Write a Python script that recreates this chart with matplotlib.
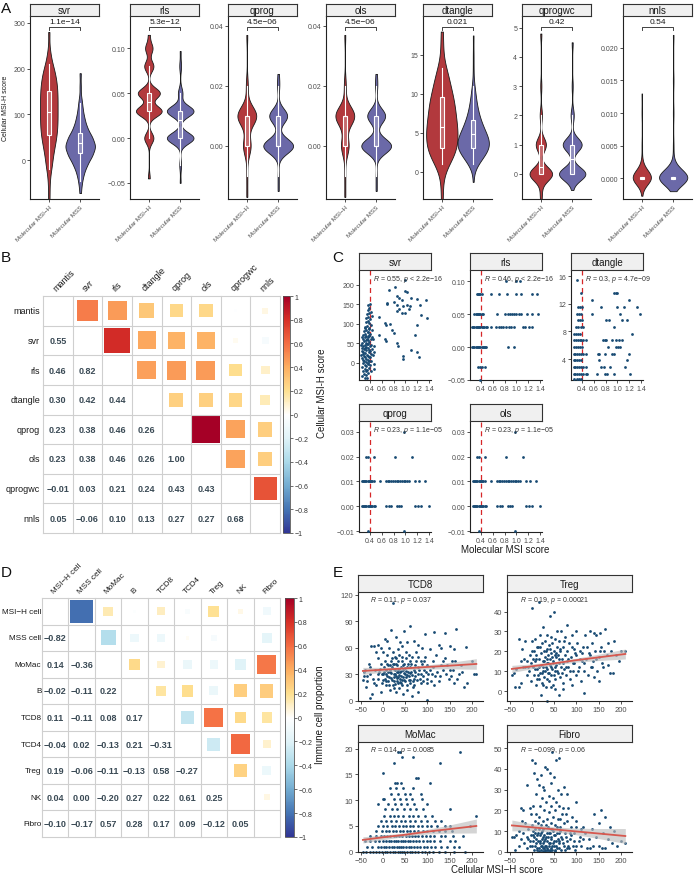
import numpy as np
import matplotlib
matplotlib.use("Agg")
import matplotlib.pyplot as plt
import matplotlib.transforms as mtransforms
from matplotlib.colors import LinearSegmentedColormap, Normalize
from matplotlib.cm import ScalarMappable
from matplotlib.patches import Rectangle

plt.rcParams['font.family'] = ['Liberation Sans', 'DejaVu Sans']
plt.rcParams['mathtext.fontset'] = 'custom'
plt.rcParams['mathtext.it'] = 'Liberation Sans:italic'
plt.rcParams['mathtext.rm'] = 'Liberation Sans'

# ================= A: violin data (levels, counts) =================
a_names = ['svr', 'rls', 'qprog', 'ols', 'dtangle', 'qprogwc', 'nnls']
a_pvals = ['1.1e−14', '5.3e−12', '4.5e−06', '4.5e−06', '0.021', '0.42', '0.54']
a_groups = ['Molecular MSI−H', 'Molecular MSS']

svr_h_lv = [-85, -50, -20, 0, 25, 50, 75, 100, 125, 150, 175, 200, 230, 280]
svr_h_ct = [1, 1, 2, 3, 5, 7, 8, 8, 8, 8, 7, 5, 2, 1]
svr_s_lv = [-72, -50, -30, -10, 10, 30, 50, 70, 90, 110, 130, 160, 190]
svr_s_ct = [1, 2, 4, 8, 14, 18, 14, 8, 5, 3, 2, 1, 1]
rls_h_lv = [-0.045, 0.0, 0.03, 0.05, 0.08, 0.10, 0.115]
rls_h_ct = [1, 5, 14, 12, 5, 4, 1]
rls_s_lv = [-0.05, -0.03, 0.0, 0.03, 0.05, 0.08, 0.097]
rls_s_ct = [1, 2, 30, 30, 5, 2, 1]
qprog_h_lv = [-0.017, -0.01, 0.0, 0.01, 0.02, 0.037]
qprog_h_ct = [1, 1, 8, 20, 2, 1]
qprog_s_lv = [-0.015, -0.01, 0.0, 0.01, 0.02, 0.024]
qprog_s_ct = [1, 1, 30, 18, 2, 1]
dtangle_h_lv = [-3.5, -1, 1, 2, 3, 4, 5, 6, 7, 8, 9, 10, 11, 12, 13, 14, 16, 18]
dtangle_h_ct = [1, 1, 3, 5, 6, 6, 6, 6, 5, 5, 5, 4, 3, 3, 2, 1, 1, 1]
dtangle_s_lv = [-1.3, 1, 2, 3, 4, 5, 6, 7, 8, 9, 10, 11, 13, 15, 17.5]
dtangle_s_ct = [1, 6, 14, 22, 22, 16, 12, 8, 6, 4, 3, 2, 1, 1, 1]
qprogwc_h_lv = [-0.86, -0.6, 0, 1, 2, 3, 4.8]
qprogwc_h_ct = [1, 1, 20, 9, 2, 1, 1]
qprogwc_s_lv = [-0.55, 0, 1, 2, 3, 4.5]
qprogwc_s_ct = [1, 25, 18, 3, 1, 1]
nnls_h_lv = [-0.0027, 0, 0.001, 0.002, 0.005, 0.010, 0.013]
nnls_h_ct = [1, 30, 5, 2, 1, 1, 1]
nnls_s_lv = [-0.002, 0, 0.001, 0.002, 0.005, 0.010, 0.015, 0.022]
nnls_s_ct = [1, 40, 6, 2, 1, 1, 1, 1]

# box stats: whislo, q1, med, q3, whishi
svr_box = [(-20, 55, 105, 152, 210), (-45, 15, 37, 60, 125)]
rls_box = [(0.0, 0.03, 0.04, 0.05, 0.08), (-0.03, 0.0, 0.02, 0.03, 0.05)]
qprog_box = [(-0.01, 0.0, 0.01, 0.01, 0.02), (-0.01, 0.0, 0.0, 0.01, 0.02)]
dtangle_box = [(1, 3, 5.7, 9.6, 13.3), (1, 3, 4.8, 6.7, 11)]
qprogwc_box = [(0, 0, 0.25, 1, 2), (0, 0, 0.5, 1, 2)]
nnls_box = [(0, -0.0002, 0, 0.0002, 0), (0, -0.0002, 0, 0.0002, 0)]

a_data = {
    'svr': (svr_h_lv, svr_h_ct, svr_s_lv, svr_s_ct, svr_box),
    'rls': (rls_h_lv, rls_h_ct, rls_s_lv, rls_s_ct, rls_box),
    'qprog': (qprog_h_lv, qprog_h_ct, qprog_s_lv, qprog_s_ct, qprog_box),
    'ols': (qprog_h_lv, qprog_h_ct, qprog_s_lv, qprog_s_ct, qprog_box),
    'dtangle': (dtangle_h_lv, dtangle_h_ct, dtangle_s_lv, dtangle_s_ct, dtangle_box),
    'qprogwc': (qprogwc_h_lv, qprogwc_h_ct, qprogwc_s_lv, qprogwc_s_ct, qprogwc_box),
    'nnls': (nnls_h_lv, nnls_h_ct, nnls_s_lv, nnls_s_ct, nnls_box),
}
a_ylim = {'svr': (-85, 315), 'rls': (-0.068, 0.136), 'qprog': (-0.0177, 0.0433),
          'ols': (-0.0177, 0.0433), 'dtangle': (-3.5, 20), 'qprogwc': (-0.86, 5.4),
          'nnls': (-0.0032, 0.0249)}
a_yticks = {'svr': [0, 100, 200, 300], 'rls': [-0.05, 0.0, 0.05, 0.10],
            'qprog': [0.0, 0.02, 0.04], 'ols': [0.0, 0.02, 0.04], 'dtangle': [0, 5, 10, 15],
            'qprogwc': [0, 1, 2, 3, 4, 5], 'nnls': [0.0, 0.005, 0.010, 0.015, 0.020]}
a_yfmt = {'svr': '{:.0f}', 'rls': '{:.2f}', 'qprog': '{:.2f}', 'ols': '{:.2f}',
          'dtangle': '{:.0f}', 'qprogwc': '{:.0f}', 'nnls': '{:.3f}'}
a_widths = {'svr': (0.56, 0.94), 'rls': (0.82, 0.85), 'qprog': (0.6, 0.95), 'ols': (0.6, 0.95),
            'dtangle': (1.0, 1.0), 'qprogwc': (0.72, 0.84), 'nnls': (0.58, 0.9)}
a_bw = {'svr': (0.25, 0.25), 'rls': (0.18, 0.25), 'qprog': (0.35, 0.35), 'ols': (0.35, 0.35),
        'dtangle': (0.35, 0.35), 'qprogwc': (0.22, 0.25), 'nnls': (0.4, 0.3)}

# ================= B / D: correlation matrices (lower triangle) =================
b_labels = ['mantis', 'svr', 'rls', 'dtangle', 'qprog', 'ols', 'qprogwc', 'nnls']
b_lower = [[],
           [0.55],
           [0.46, 0.82],
           [0.30, 0.42, 0.44],
           [0.23, 0.38, 0.46, 0.26],
           [0.23, 0.38, 0.46, 0.26, 1.00],
           [-0.01, 0.03, 0.21, 0.24, 0.43, 0.43],
           [0.05, -0.06, 0.10, 0.13, 0.27, 0.27, 0.68]]
d_labels = ['MSI−H cell', 'MSS cell', 'MoMac', 'B', 'TCD8', 'TCD4', 'Treg', 'NK', 'Fibro']
d_lower = [[],
           [-0.82],
           [0.14, -0.36],
           [-0.02, -0.11, 0.22],
           [0.11, -0.11, 0.08, 0.17],
           [-0.04, 0.02, -0.13, 0.21, -0.31],
           [0.19, -0.06, -0.11, -0.13, 0.58, -0.27],
           [0.04, 0.00, -0.20, 0.27, 0.22, 0.61, 0.25],
           [-0.10, -0.17, 0.57, 0.28, 0.17, 0.09, -0.12, 0.05]]

# ================= C: Molecular MSI score vs method scores =================
svr_pts = [
    (1.0, 213), (0.72, 188), (0.82, 194), (1.0, 184), (1.03, 182), (0.86, 171), (0.89, 166),
    (0.95, 160), (1.10, 166), (1.19, 164), (1.35, 160), (0.80, 156), (0.86, 149), (0.69, 154),
    (0.69, 150), (0.96, 145), (1.03, 147), (1.07, 145), (1.06, 138), (0.90, 137), (0.85, 132),
    (0.95, 129), (1.0, 127), (1.25, 147), (0.56, 117), (1.27, 123), (1.37, 115), (0.66, 103),
    (0.67, 98), (0.74, 100), (0.78, 83), (0.80, 77), (0.56, 72), (0.65, 62), (0.67, 55),
    (1.20, 96), (1.16, 72), (0.86, 50), (0.87, 44), (0.96, 17), (0.96, 10), (1.10, 34),
    (1.19, 27), (1.23, 16),
    (0.27, -35), (0.30, -28), (0.33, -32), (0.36, -25), (0.29, -20), (0.32, -15), (0.35, -18),
    (0.38, -12), (0.26, -10), (0.31, -5), (0.34, -8), (0.37, -2), (0.40, -6), (0.28, 0),
    (0.30, 5), (0.33, 2), (0.36, 8), (0.39, 4), (0.27, 12), (0.31, 15), (0.34, 10), (0.37, 18),
    (0.40, 14), (0.29, 22), (0.32, 25), (0.35, 20), (0.38, 28), (0.41, 22), (0.26, 30),
    (0.30, 35), (0.33, 32), (0.36, 38), (0.39, 33), (0.28, 42), (0.31, 45), (0.34, 40),
    (0.37, 48), (0.40, 44), (0.27, 52), (0.30, 55), (0.33, 50), (0.36, 58), (0.39, 54),
    (0.29, 62), (0.32, 65), (0.35, 60), (0.38, 68), (0.41, 62), (0.28, 72), (0.31, 75),
    (0.34, 70), (0.37, 78), (0.40, 74), (0.30, 82), (0.33, 85), (0.36, 80), (0.39, 88),
    (0.32, 92), (0.35, 95), (0.38, 90), (0.41, 98), (0.33, 105), (0.36, 108), (0.39, 102),
    (0.34, 115), (0.37, 118), (0.40, 112), (0.35, 125), (0.38, 128), (0.36, 135), (0.39, 140),
    (0.37, 148), (0.40, 152), (0.42, 130), (0.43, 120), (0.44, 85), (0.45, 60), (0.46, 44),
    (0.47, 27), (0.45, 19), (0.46, -3), (0.46, -17), (0.43, 35), (0.42, 5), (0.25, 45),
    (0.24, 20), (0.26, 65), (0.41, -20), (0.35, -38), (0.31, -40), (0.29, 8), (0.32, 38),
    (0.35, 48), (0.38, 15), (0.28, 28), (0.34, 58), (0.37, 65), (0.31, 90), (0.27, 38),
    (0.40, 30), (0.33, -22), (0.36, 0), (0.39, 72), (0.42, 45), (0.30, 18), (0.43, 65)]
rls_pts = [
    (0.82, 0.10), (1.0, 0.10), (1.06, 0.10),
    (0.33, 0.08), (0.35, 0.08), (0.37, 0.08), (0.39, 0.08), (0.41, 0.08), (0.57, 0.08),
    (0.70, 0.08), (0.84, 0.08), (1.0, 0.08), (1.07, 0.08), (1.27, 0.08), (1.35, 0.08),
    (0.29, 0.05), (0.31, 0.05), (0.33, 0.05), (0.35, 0.05), (0.37, 0.05), (0.39, 0.05),
    (0.41, 0.05), (0.43, 0.05), (0.67, 0.05), (0.81, 0.05), (0.85, 0.05), (0.89, 0.05),
    (0.93, 0.05), (0.96, 0.05), (0.99, 0.05), (1.04, 0.05), (1.07, 0.05), (1.18, 0.05),
    (1.27, 0.05), (1.37, 0.05),
    (0.25, 0.03), (0.27, 0.03), (0.29, 0.03), (0.31, 0.03), (0.33, 0.03), (0.35, 0.03),
    (0.37, 0.03), (0.39, 0.03), (0.41, 0.03), (0.43, 0.03), (0.45, 0.03), (0.48, 0.03),
    (0.51, 0.03), (0.57, 0.03), (0.65, 0.03), (0.70, 0.03), (0.74, 0.03), (0.78, 0.03),
    (0.82, 0.03), (0.87, 0.03), (0.91, 0.03), (0.955, 0.03), (1.11, 0.03), (1.15, 0.03),
    (1.21, 0.03), (1.26, 0.03),
    (0.25, 0.0), (0.27, 0.0), (0.29, 0.0), (0.31, 0.0), (0.33, 0.0), (0.35, 0.0), (0.37, 0.0),
    (0.39, 0.0), (0.41, 0.0), (0.43, 0.0), (0.45, 0.0), (0.47, 0.0), (0.49, 0.0), (0.86, 0.0),
    (0.955, 0.0),
    (0.35, -0.03), (0.38, -0.03), (0.42, -0.03), (0.47, -0.03), (0.38, -0.05)]
dtangle_pts = [
    (0.31, 15.4), (0.38, 13.5), (0.94, 13.5), (0.97, 13.5), (1.0, 13.5), (0.57, 12.5), (1.19, 12.5),
    (0.33, 11.5), (0.37, 11.5), (0.40, 11.5), (0.73, 11.5), (1.0, 11.5), (1.11, 11.5), (1.34, 11.5),
    (0.31, 10.6), (0.35, 10.6), (0.39, 10.6), (0.57, 10.6), (1.05, 10.6), (1.38, 10.6),
    (0.33, 9.6), (0.37, 9.6), (0.40, 9.6), (0.81, 9.6), (0.85, 9.6), (1.07, 9.6), (1.17, 9.6),
    (0.30, 8.7), (0.34, 8.7), (0.38, 8.7), (0.41, 8.7), (0.95, 8.7),
    (0.27, 7.7), (0.30, 7.7), (0.34, 7.7), (0.37, 7.7), (1.25, 7.7),
    (0.27, 6.75), (0.30, 6.75), (0.33, 6.75), (0.36, 6.75), (0.39, 6.75), (0.42, 6.75),
    (0.46, 6.75), (0.75, 6.75), (0.79, 6.75), (0.81, 6.75), (0.91, 6.75), (0.97, 6.75),
    (1.02, 6.75), (1.07, 6.75),
    (0.27, 5.8), (0.30, 5.8), (0.33, 5.8), (0.36, 5.8), (0.40, 5.8), (0.84, 5.8), (0.97, 5.8),
    (1.01, 5.8), (1.05, 5.8),
    (0.26, 4.8), (0.29, 4.8), (0.32, 4.8), (0.35, 4.8), (0.38, 4.8), (0.41, 4.8), (0.46, 4.8),
    (0.67, 4.8), (0.69, 4.8), (0.79, 4.8), (0.91, 4.8), (0.95, 4.8), (1.20, 4.8),
    (0.26, 3.85), (0.29, 3.85), (0.32, 3.85), (0.35, 3.85), (0.38, 3.85), (0.68, 3.85), (1.17, 3.85),
    (0.26, 2.9), (0.29, 2.9), (0.32, 2.9), (0.35, 2.9), (0.38, 2.9), (0.41, 2.9), (0.46, 2.9),
    (0.73, 2.9), (0.77, 2.9), (0.88, 2.9), (1.13, 2.9),
    (0.26, 1.9), (0.29, 1.9), (0.32, 1.9), (0.35, 1.9), (0.38, 1.9), (0.42, 1.9), (0.46, 1.9),
    (0.49, 1.9), (0.66, 1.9), (0.79, 1.9), (0.83, 1.9), (0.94, 1.9), (1.22, 1.9),
    (0.27, 1.1), (0.31, 1.1), (0.35, 1.1), (0.39, 1.1)]
qprog_pts = [
    (0.97, 0.03), (0.33, 0.02), (0.36, 0.02), (0.47, 0.02), (0.83, 0.02), (1.11, 0.02),
    (0.26, 0.01), (0.28, 0.01), (0.30, 0.01), (0.32, 0.01), (0.34, 0.01), (0.36, 0.01),
    (0.38, 0.01), (0.40, 0.01), (0.42, 0.01), (0.44, 0.01), (0.46, 0.01), (0.57, 0.01),
    (0.67, 0.01), (0.70, 0.01), (0.73, 0.01), (0.76, 0.01), (0.79, 0.01), (0.82, 0.01),
    (0.85, 0.01), (0.88, 0.01), (0.91, 0.01), (0.94, 0.01), (0.97, 0.01), (1.00, 0.01),
    (1.03, 0.01), (1.06, 0.01), (1.17, 0.01), (1.23, 0.01), (1.34, 0.01),
    (0.26, 0.0), (0.28, 0.0), (0.30, 0.0), (0.32, 0.0), (0.34, 0.0), (0.36, 0.0), (0.38, 0.0),
    (0.40, 0.0), (0.42, 0.0), (0.44, 0.0), (0.46, 0.0), (0.49, 0.0), (0.67, 0.0), (0.72, 0.0),
    (0.76, 0.0), (0.86, 0.0), (0.90, 0.0), (0.93, 0.0), (1.17, 0.0), (1.21, 0.0), (1.27, 0.0),
    (1.40, 0.0), (0.36, -0.01), (0.97, -0.01)]
ols_pts = qprog_pts
c_names = ['svr', 'rls', 'dtangle', 'qprog', 'ols']
c_stats = [r'$\it{R}$ = 0.55, $\it{p}$ < 2.2e−16', r'$\it{R}$ = 0.46, $\it{p}$ < 2.2e−16',
           r'$\it{R}$ = 0.3, $\it{p}$ = 4.7e−09', r'$\it{R}$ = 0.23, $\it{p}$ = 1.1e−05',
           r'$\it{R}$ = 0.23, $\it{p}$ = 1.1e−05']
c_ylim = [(-44, 238), (-0.05, 0.117), (0.97, 16.9), (-0.0104, 0.0344), (-0.0104, 0.0344)]
c_yticks = [[0, 50, 100, 150, 200], [-0.05, 0.0, 0.05, 0.10], [4, 8, 12, 16],
            [-0.01, 0.0, 0.01, 0.02, 0.03], [-0.01, 0.0, 0.01, 0.02, 0.03]]
c_yfmt = ['{:.0f}', '{:.2f}', '{:.0f}', '{:.2f}', '{:.2f}']
c_xticks = [0.4, 0.6, 0.8, 1.0, 1.2, 1.4]

# ================= E: Cellular MSI-H score vs immune cell proportion =================
tcd8_pts = [
    (23, 111), (60, 85), (19, 80), (115, 78), (139, 77), (165, 81), (47, 79), (95, 75), (186, 61),
    (-26, 62), (-10, 63), (5, 70), (10, 68), (30, 72), (38, 66), (42, 62), (55, 67), (70, 68),
    (78, 63), (88, 60), (105, 58), (125, 63), (130, 60), (150, 62), (160, 58), (120, 52),
    (140, 48), (175, 40), (200, 45), (205, 30), (190, 20), (182, 15), (160, 20), (170, 30),
    (150, 35), (155, 45), (145, 40), (135, 35), (125, 22), (115, 18), (110, 30), (100, 40),
    (100, 25), (95, 50), (92, 35), (85, 45), (85, 20), (80, 30), (80, 10), (75, 55), (72, 40),
    (70, 25), (68, 15), (65, 50), (63, 33), (60, 45), (60, 20), (58, 28), (55, 38), (55, 12),
    (52, 55), (50, 30), (50, 22), (48, 42), (46, 8), (45, 35), (44, 18), (42, 50), (41, 28),
    (40, 38), (38, 25), (37, 14), (35, 45), (35, 32), (34, 20), (33, 58), (32, 40), (30, 28),
    (30, 10), (28, 35), (27, 50), (26, 22), (25, 42), (24, 30), (22, 18), (22, 55), (20, 38),
    (18, 26), (18, 45), (16, 12), (15, 32), (14, 60), (12, 22), (12, 40), (10, 28), (10, 52),
    (8, 35), (6, 18), (5, 45), (4, 25), (2, 38), (0, 30), (0, 55), (-2, 20), (-4, 42), (-5, 10),
    (-8, 33), (-10, 25), (-12, 48), (-15, 18), (-18, 35), (-20, 62), (-22, 25), (-25, 8),
    (-28, 3), (-30, 30), (-35, 22), (-40, 35), (-45, 24), (-42, 33), (-38, 15), (-32, 42),
    (-15, 55), (-5, 60), (65, 5), (75, 45), (90, 28), (105, 35), (112, 45), (118, 28), (130, 40),
    (148, 25), (162, 45), (210, 30), (100, 0.5), (28, 30), (31, 26), (33, 35), (36, 29), (39, 33),
    (43, 24), (47, 31), (49, 37), (53, 27), (57, 33), (62, 38), (66, 29), (29, 42), (24, 36),
    (19, 31), (14, 27), (44, 45), (51, 48), (58, 52), (36, 52), (26, 14), (40, 20), (54, 18),
    (62, 24), (72, 32), (78, 38), (84, 25), (88, 42), (96, 32), (6, 30), (1, 24), (-6, 36),
    (16, 40), (21, 48),
    (32, 22), (34, 27), (37, 36), (39, 21), (41, 34), (45, 27), (46, 40), (48, 24), (52, 34),
    (54, 29), (56, 42), (59, 24), (61, 31), (64, 42), (67, 22), (69, 35), (71, 18), (73, 28),
    (76, 24), (79, 50), (82, 35), (86, 30), (90, 22), (93, 45), (98, 20), (102, 30), (107, 22),
    (113, 38), (122, 33), (128, 28), (134, 45), (142, 30), (152, 28), (158, 35), (167, 25),
    (178, 33), (-2, 30), (3, 33), (7, 22), (9, 42), (11, 33), (13, 18), (17, 35), (20, 24),
    (23, 42), (25, 27), (27, 19), (29, 48), (31, 33), (-12, 30), (-20, 20), (-28, 38), (-35, 28),
    (-42, 28)]
treg_pts = [
    (0, 42), (16, 45), (40, 38), (49, 40), (57, 30), (80, 33), (100, 30), (130, 30), (165, 31),
    (152, 29), (145, 28), (140, 29), (170, 24), (185, 25), (210, 20), (200, 20), (190, 18),
    (178, 20), (175, 9), (182, 9), (160, 12), (150, 5), (140, 7), (118, -1), (60, -2), (35, -5),
    (20, -2), (-28, 26), (-40, 9), (-45, 8), (-38, 2), (-30, 2), (-25, 4), (-22, 21), (-15, 25),
    (-10, 15), (-20, 12), (-12, 8), (-5, 18), (-3, 5), (0, 25), (2, 12), (4, 20), (5, 8), (6, 15),
    (8, 26), (10, 3), (10, 18), (12, 11), (14, 22), (15, 6), (16, 16), (18, 28), (19, 9), (20, 19),
    (21, 13), (22, 24), (23, 4), (24, 15), (25, 32), (26, 10), (27, 20), (28, 7), (29, 17),
    (30, 25), (31, 12), (32, 2), (33, 21), (34, 14), (35, 28), (36, 9), (37, 18), (38, 5),
    (39, 23), (40, 13), (41, 16), (42, 27), (43, 8), (44, 19), (45, 11), (46, 24), (47, 3),
    (48, 15), (50, 20), (51, 10), (52, 26), (53, 6), (54, 17), (55, 13), (56, 22), (58, 9),
    (59, 18), (60, 14), (62, 25), (63, 7), (64, 20), (65, 12), (66, 30), (68, 16), (69, 4),
    (70, 22), (72, 11), (74, 18), (75, 27), (76, 8), (78, 15), (80, 20), (82, 12), (84, 24),
    (85, 6), (88, 17), (90, 28), (92, 10), (94, 21), (95, 14), (98, 8), (100, 18), (102, 24),
    (105, 12), (108, 20), (110, 5), (112, 15), (115, 22), (118, 10), (120, 28), (122, 16),
    (125, 8), (128, 19), (132, 12), (135, 24), (138, 15), (142, 20), (146, 10), (150, 17),
    (155, 22), (158, 14), (162, 20), (168, 18), (172, 13), (195, 15), (26, 3), (33, 6), (44, 2),
    (52, 1), (-8, 12), (-18, 16), (12, 6), (70, 1), (90, 3), (3, 16),
    (25, 12), (27, 15), (29, 10), (31, 20), (33, 16), (35, 11), (37, 14), (39, 9), (41, 21),
    (43, 12), (45, 17), (47, 14), (49, 8), (51, 18), (53, 12), (55, 19), (57, 10), (61, 16),
    (63, 21), (67, 9), (71, 14), (73, 25), (77, 12), (81, 16), (86, 10), (89, 22), (93, 14),
    (97, 19), (103, 10), (107, 16), (113, 19), (117, 14), (124, 22), (130, 18), (136, 12),
    (144, 16), (153, 20), (-6, 10), (-1, 14), (1, 20), (7, 11), (9, 16), (11, 22), (13, 8),
    (17, 12), (19, 22), (22, 9), (-15, 12), (-25, 15), (-35, 11)]
momac_pts = [
    (-45, 0), (-38, 0), (-30, 0), (-22, 0), (-15, 0), (-8, 0), (-2, 0), (4, 0), (10, 0), (16, 0),
    (22, 0), (28, 0), (33, 0), (38, 0), (43, 0), (48, 0), (54, 0), (60, 0), (66, 0), (72, 0),
    (80, 0), (88, 0), (95, 0), (104, 0), (112, 0), (125, 0), (140, 0), (160, 0), (185, 0),
    (-35, 1), (-25, 1), (-12, 1), (-5, 1), (2, 1), (8, 1), (14, 1), (20, 1), (26, 1), (31, 1),
    (36, 1), (41, 1), (46, 1), (52, 1), (58, 1), (64, 1), (70, 1), (76, 1), (84, 1), (92, 1),
    (100, 1), (108, 1), (118, 1), (130, 1), (145, 1), (160, 1), (172, 1),
    (-40, 2), (-28, 2), (-18, 2), (-8, 2), (0, 2), (7, 2), (13, 2), (19, 2), (25, 2), (30, 2),
    (35, 2), (40, 2), (45, 2), (50, 2), (56, 2), (62, 2), (68, 2), (74, 2), (82, 2), (90, 2),
    (98, 2), (106, 2), (115, 2), (128, 2), (150, 2), (162, 2),
    (-30, 3), (-15, 3), (-5, 3), (3, 3), (10, 3), (17, 3), (24, 3), (30, 3), (37, 3), (44, 3),
    (51, 3), (58, 3), (65, 3), (72, 3), (80, 3), (88, 3), (96, 3), (105, 3), (115, 3), (130, 3),
    (140, 3), (158, 3), (180, 3),
    (-15, 4), (-2, 4), (6, 4), (14, 4), (22, 4), (30, 4), (38, 4), (46, 4), (54, 4), (62, 4),
    (70, 4), (80, 4), (90, 4), (100, 4), (112, 4), (125, 4), (140, 4), (155, 4),
    (-10, 5), (0, 5), (10, 5), (20, 5), (28, 5), (36, 5), (45, 5), (53, 5), (60, 5), (68, 5),
    (78, 5), (88, 5), (98, 5), (108, 5), (122, 5), (140, 5), (150, 5), (195, 5),
    (-5, 6), (8, 6), (18, 6), (30, 6), (40, 6), (50, 6), (60, 6), (72, 6), (85, 6), (100, 6),
    (118, 6), (130, 6),
    (2, 7), (15, 7), (25, 7), (35, 7), (45, 7), (58, 7), (68, 7), (80, 7), (95, 7), (110, 7),
    (210, 7),
    (5, 8.2), (20, 8.2), (32, 8.2), (48, 8.2), (62, 8.2), (75, 8.2), (90, 8.2), (150, 8.2),
    (-10, 9.2), (12, 9.2), (28, 9.2), (40, 9.2), (55, 9.2), (70, 9.2), (100, 9.2),
    (0, 10.2), (2, 10.2), (25, 10.2), (38, 10.2), (52, 10.2), (65, 10.2), (88, 10.2),
    (18, 11.2), (35, 11.2), (50, 11.2), (60, 11.2), (85, 11.2),
    (15, 12.3), (30, 12.3), (45, 12.3), (68, 12.3),
    (28, 13.3), (32, 13.3), (40, 13.3), (105, 13.3), (75, 14.3), (78, 14.3), (0, 15.3),
    (25, 17.3), (128, 17.3), (42, 18.3), (68, 18.3), (35, 19.4), (38, 19.4), (173, 19.4)]
fibro_pts = [
    (45, 48), (55, 44), (60, 45), (0, 44), (8, 43), (30, 41), (35, 40), (40, 38), (20, 37),
    (12, 35), (5, 38), (15, 32), (-10, 32), (25, 31), (28, 30), (50, 36), (58, 30), (65, 28),
    (72, 31), (78, 28), (100, 24), (42, 33), (10, 28), (22, 26), (-25, 21), (-20, 20), (-5, 21),
    (2, 22), (18, 22), (32, 24), (38, 27), (48, 26), (52, 20), (62, 22), (70, 21), (82, 21),
    (90, 17), (115, 12), (140, 18), (155, 20), (165, 17), (150, 14), (160, 9), (175, 12),
    (185, 10), (200, 5), (210, 4), (180, 4), (170, 6), (145, 7), (135, 11), (128, 6), (120, 9),
    (110, 11), (105, 5), (100, 15), (95, 9), (92, 3), (88, 12), (85, 6), (80, 15), (78, 2),
    (75, 9), (72, 14), (70, 4), (68, 18), (65, 7), (63, 12), (60, 2), (58, 16), (56, 9), (55, 5),
    (53, 13), (51, 1), (50, 8), (48, 17), (47, 4), (46, 11), (44, 2), (43, 14), (42, 6), (41, 9),
    (40, 1), (39, 19), (38, 4), (37, 12), (36, 7), (35, 2), (34, 16), (33, 9), (32, 3), (31, 13),
    (30, 6), (29, 1), (28, 20), (27, 8), (26, 4), (25, 15), (24, 2), (23, 10), (22, 6), (21, 1),
    (20, 13), (19, 4), (18, 8), (17, 17), (16, 2), (15, 11), (14, 5), (13, 14), (12, 8), (11, 2),
    (10, 18), (9, 6), (8, 11), (7, 3), (6, 15), (5, 7), (4, 1), (3, 10), (2, 5), (1, 13), (0, 3),
    (-1, 8), (-3, 18), (-5, 5), (-8, 11), (-10, 2), (-12, 7), (-15, 14), (-18, 4), (-20, 9),
    (-25, 6), (-30, 3), (-35, 8), (-40, 7), (-45, 7), (-38, 1), (-28, 10), (-22, 15), (33, 1),
    (36, 1), (39, 3), (41, 0.5), (45, 1), (49, 3), (52, 0.5), (57, 2), (61, 5), (66, 1), (30, 0.5),
    (27, 2), (24, 0.5), (20, 3), (17, 0.5), (12, 1), (74, 1), (82, 3), (96, 1), (124, 2),
    (138, 3), (158, 2), (192, 3), (44, 22), (54, 24), (64, 16), (76, 18), (86, 9), (98, 12),
    (108, 7),
    (30, 3), (32, 7), (35, 5), (38, 9), (40, 4), (42, 11), (44, 7), (46, 3), (48, 10), (50, 5),
    (52, 8), (54, 3), (56, 12), (58, 6), (60, 9), (62, 4), (64, 10), (68, 6), (72, 3), (76, 7),
    (80, 5), (84, 2), (88, 8), (94, 5), (100, 3), (18, 5), (20, 9), (22, 3), (24, 7), (26, 11),
    (28, 5), (14, 9), (10, 4), (6, 9), (2, 8), (-4, 3), (-8, 6), (110, 3), (115, 6), (130, 2),
    (150, 3), (165, 2)]
e_names = ['TCD8', 'Treg', 'MoMac', 'Fibro']
e_stats = [r'$\it{R}$ = 0.11, $\it{p}$ = 0.037', r'$\it{R}$ = 0.19, $\it{p}$ = 0.00021',
           r'$\it{R}$ = 0.14, $\it{p}$ = 0.0085', r'$\it{R}$ = −0.099, $\it{p}$ = 0.06']
e_ylim = [(-0.3, 123), (-4.9, 49.8), (-0.05, 21.3), (-0.1, 52.9)]
e_yticks = [[0, 30, 60, 90, 120], [0, 10, 20, 30, 40], [0, 5, 10, 15, 20], [0, 10, 20, 30, 40, 50]]
e_xticks = [-50, 0, 50, 100, 150, 200]
# fitted line and confidence band
fit_x = [-45, 0, 50, 100, 150, 210]
tcd8_fit = [33.7, 35.1, 36.6, 38.2, 39.7, 41.6]
tcd8_hw = [4.0, 2.7, 2.0, 2.4, 3.6, 6.0]
treg_fit = [11.2, 12.5, 14.0, 15.6, 17.0, 18.7]
treg_hw = [1.8, 1.2, 0.8, 1.0, 1.6, 2.5]
momac_fit = [2.3, 2.8, 3.3, 3.9, 4.4, 5.0]
momac_hw = [0.6, 0.45, 0.35, 0.45, 0.8, 1.35]
fibro_fit = [12.7, 11.8, 10.8, 9.8, 8.8, 7.6]
fibro_hw = [2.6, 1.7, 1.2, 1.6, 2.4, 3.6]

# ================= figure =================
W, H = 696, 879
fig = plt.figure(figsize=(W / 100, H / 100), dpi=100)
fig.patch.set_facecolor('white')

RED = '#B2393D'
BLUE = '#6B69A8'
NAVY = '#184A73'
TICK = '#4D4D4D'


def add_ax(x0, y0, x1, y1):
    return fig.add_axes([x0 / W, 1 - y1 / H, (x1 - x0) / W, (y1 - y0) / H])


def strip(x0, x1, y0, y1, label, fs=7):
    s = add_ax(x0, y0, x1, y1)
    s.set_facecolor('#F0F0F0')
    s.set_xticks([])
    s.set_yticks([])
    for sp in s.spines.values():
        sp.set_linewidth(0.8)
        sp.set_color('#333333')
    s.text(0.5, 0.48, label, ha='center', va='center', fontsize=fs, color='#1A1A1A',
           transform=s.transAxes)


def classic(ax, fs=5):
    for k in ['top', 'right']:
        ax.spines[k].set_visible(False)
    for k in ['left', 'bottom']:
        ax.spines[k].set_linewidth(0.8)
        ax.spines[k].set_color('#222222')
    ax.tick_params(labelsize=fs, length=2, width=0.6, pad=1.5, colors='#333333',
                   labelcolor=TICK)
    ax.set_facecolor('none')


def fmt(v, f):
    return f.format(v).replace('-', '−')


# ---------- panel A ----------
a_left = [30, 130, 228, 326, 423, 522, 623]
for name, pv, l in zip(a_names, a_pvals, a_left):
    ax = add_ax(l, 17, l + 69, 200)
    strip(l, l + 69, 5, 17, name)
    hl, hc, sl, sc, box = a_data[name]
    wr, wb = a_widths[name]
    bwr, bwb = a_bw[name]
    for lv, ct, pos, w, bw, col in [(hl, hc, 1, wr, bwr, RED), (sl, sc, 2, wb, bwb, BLUE)]:
        vals = np.repeat(np.array(lv, dtype=float), ct)
        parts = ax.violinplot([vals], positions=[pos], widths=[w], showextrema=False,
                              bw_method=bw, points=300)
        for b in parts['bodies']:
            b.set_facecolor(col)
            b.set_edgecolor('#1A1A1A')
            b.set_linewidth(0.6)
            b.set_alpha(1)
    stats = [dict(whislo=b[0], q1=b[1], med=b[2], q3=b[3], whishi=b[4], fliers=[]) for b in box]
    ax.bxp(stats, positions=[1, 2], widths=0.12, patch_artist=True, showcaps=False,
           manage_ticks=False,
           boxprops=dict(facecolor=(1, 1, 1, 0.25), edgecolor='white', linewidth=0.8),
           medianprops=dict(color='white', linewidth=0.8),
           whiskerprops=dict(color='white', linewidth=0.8))
    ax.set_xlim(0.4, 2.6)
    ax.set_ylim(*a_ylim[name])
    ax.set_yticks(a_yticks[name])
    ax.set_yticklabels([fmt(v, a_yfmt[name]) for v in a_yticks[name]])
    ax.set_xticks([1, 2])
    ax.set_xticklabels(a_groups, rotation=45, ha='right', rotation_mode='anchor')
    classic(ax, 5)
    ax.tick_params(axis='x', labelsize=4.5)
    tr = mtransforms.blended_transform_factory(ax.transData, ax.transAxes)
    ax.plot([1, 1, 2, 2], [0.925, 0.942, 0.942, 0.925], transform=tr, color='#222222',
            lw=0.6, clip_on=False)
    ax.text(1.5, 0.95, pv, transform=tr, ha='center', va='bottom', fontsize=6, color='#1A1A1A')
    if name == 'svr':
        ax.set_ylabel('Cellular MSI-H score', fontsize=5, color='#1A1A1A', labelpad=3)

# ---------- panels B and D ----------
cmap = LinearSegmentedColormap.from_list('corr', ['#313695', '#4575B4', '#74ADD1', '#ABD9E9',
                                                  '#E0F3F8', '#FFFFFF', '#FEE090', '#FDAE61',
                                                  '#F46D43', '#D73027', '#A50026'])
norm = Normalize(-1, 1)
cb_ticks = [-1, -0.8, -0.6, -0.4, -0.2, 0, 0.2, 0.4, 0.6, 0.8, 1]


def corr_panel(box, cbox, labels, lower, fs_lab, fs_num, row_pad):
    n = len(labels)
    M = np.zeros((n, n))
    for i, row in enumerate(lower):
        for j, r in enumerate(row):
            M[i, j] = r
            M[j, i] = r
    ax = add_ax(*box)
    ax.set_xlim(0, n)
    ax.set_ylim(n, 0)
    ax.set_xticks([])
    ax.set_yticks([])
    for sp in ax.spines.values():
        sp.set_visible(False)
    for k in range(n + 1):
        ax.plot([0, n], [k, k], color='#CFCFCF', lw=0.8, clip_on=False)
        ax.plot([k, k], [0, n], color='#CFCFCF', lw=0.8, clip_on=False)
    for i in range(n):
        for j in range(n):
            r = M[i, j]
            if i > j:
                ax.text(j + 0.5, i + 0.5, fmt(r, '{:.2f}'), ha='center', va='center',
                        fontsize=fs_num, fontweight='bold', color='#3A4A55')
            elif j > i:
                side = np.sqrt(abs(r)) * 0.94
                ax.add_patch(Rectangle((j + 0.5 - side / 2, i + 0.5 - side / 2), side, side,
                                       facecolor=cmap(norm(r)), edgecolor='none'))
    for j, lab in enumerate(labels):
        ax.text(j + 0.5, -0.12, lab, rotation=45, ha='left', va='bottom',
                rotation_mode='anchor', fontsize=fs_lab, color='#1A1A1A')
    for i, lab in enumerate(labels):
        ax.text(-row_pad, i + 0.5, lab, ha='right', va='center', fontsize=fs_lab,
                color='#1A1A1A')
    cax = add_ax(*cbox)
    cb = fig.colorbar(ScalarMappable(norm=norm, cmap=cmap), cax=cax, ticks=cb_ticks)
    cb.ax.set_yticklabels([fmt(t, '{:g}') for t in cb_ticks])
    cb.ax.tick_params(labelsize=5, length=2, width=0.5, pad=1, colors='#333333')
    cb.outline.set_linewidth(0.6)
    cb.outline.set_edgecolor('#555555')


corr_panel((43, 297, 280, 534), (283, 297, 290, 534), b_labels, b_lower, 6.5, 6.5, 0.1)
corr_panel((42, 599, 280, 838), (285, 599, 294, 838), d_labels, d_lower, 5.9, 6.5, 0.02)

# ---------- panel C ----------
c_boxes = [(359, 271, 431, 381), (470, 271, 542, 381), (571, 271, 643, 381),
           (359, 422, 431, 533), (470, 422, 542, 533)]
c_pts = [svr_pts, rls_pts, dtangle_pts, qprog_pts, ols_pts]
for k, name in enumerate(c_names):
    x0, y0, x1, y1 = c_boxes[k]
    ax = add_ax(x0, y0, x1, y1)
    strip(x0, x1, y0 - 17, y0, name)
    pts = np.array(c_pts[k], dtype=float)
    ax.scatter(pts[:, 0], pts[:, 1], s=4, color=NAVY, linewidths=0, zorder=3, clip_on=False)
    ax.axvline(0.4, color='#D62728', ls=(0, (4, 3)), lw=0.9, zorder=2)
    ax.set_xlim(0.214, 1.434)
    ax.set_ylim(*c_ylim[k])
    ax.set_xticks(c_xticks)
    ax.set_xticklabels([f'{v:.1f}' for v in c_xticks])
    ax.set_yticks(c_yticks[k])
    ax.set_yticklabels([fmt(v, c_yfmt[k]) for v in c_yticks[k]])
    classic(ax, 5)
    ax.text(0.2, 0.97, c_stats[k], transform=ax.transAxes, ha='left', va='top',
            fontsize=5, color='#333333')

fig.text(505 / W, 1 - 550 / H, 'Molecular MSI score', ha='center', va='center', fontsize=7,
         color='#1A1A1A')
fig.text(322 / W, 1 - 393 / H, 'Cellular MSI-H score', ha='center', va='center', fontsize=7,
         rotation=90, color='#1A1A1A')

# ---------- panel E ----------
e_boxes = [(358, 593, 483, 702), (507, 593, 632, 702), (358, 743, 483, 853),
           (507, 743, 632, 853)]
e_pts = [tcd8_pts, treg_pts, momac_pts, fibro_pts]
e_fit = [(tcd8_fit, tcd8_hw), (treg_fit, treg_hw), (momac_fit, momac_hw), (fibro_fit, fibro_hw)]
for k, name in enumerate(e_names):
    x0, y0, x1, y1 = e_boxes[k]
    ax = add_ax(x0, y0, x1, y1)
    strip(x0, x1, y0 - 17, y0, name)
    pts = np.array(e_pts[k], dtype=float)
    ax.scatter(pts[:, 0], pts[:, 1], s=4, color=NAVY, linewidths=0, zorder=2, clip_on=False)
    fy, hw = np.array(e_fit[k][0]), np.array(e_fit[k][1])
    ax.fill_between(fit_x, fy - hw, fy + hw, color='#BDBDBD', alpha=0.65, lw=0, zorder=3)
    ax.plot(fit_x, fy, color='#D6584F', lw=1.3, zorder=4)
    ax.set_xlim(-56, 225)
    ax.set_ylim(*e_ylim[k])
    ax.set_xticks(e_xticks)
    ax.set_xticklabels([fmt(v, '{:.0f}') for v in e_xticks])
    ax.set_yticks(e_yticks[k])
    classic(ax, 5.5)
    ax.text(0.1, 0.98, e_stats[k], transform=ax.transAxes, ha='left', va='top',
            fontsize=5, color='#333333')

fig.text(497 / W, 1 - 870 / H, 'Cellular MSI−H score', ha='center', va='center', fontsize=7,
         color='#1A1A1A')
fig.text(320 / W, 1 - 715 / H, 'Immune cell proportion', ha='center', va='center', fontsize=7,
         rotation=90, color='#1A1A1A')

# ---------- panel letters ----------
for lab, x, y in [('A', 6, 9), ('B', 6, 258), ('C', 338, 258), ('D', 6, 573), ('E', 338, 573)]:
    fig.text(x / W, 1 - y / H, lab, ha='center', va='center', fontsize=11, color='#111111')

fig.savefig('out.png', dpi=100, facecolor='white')
